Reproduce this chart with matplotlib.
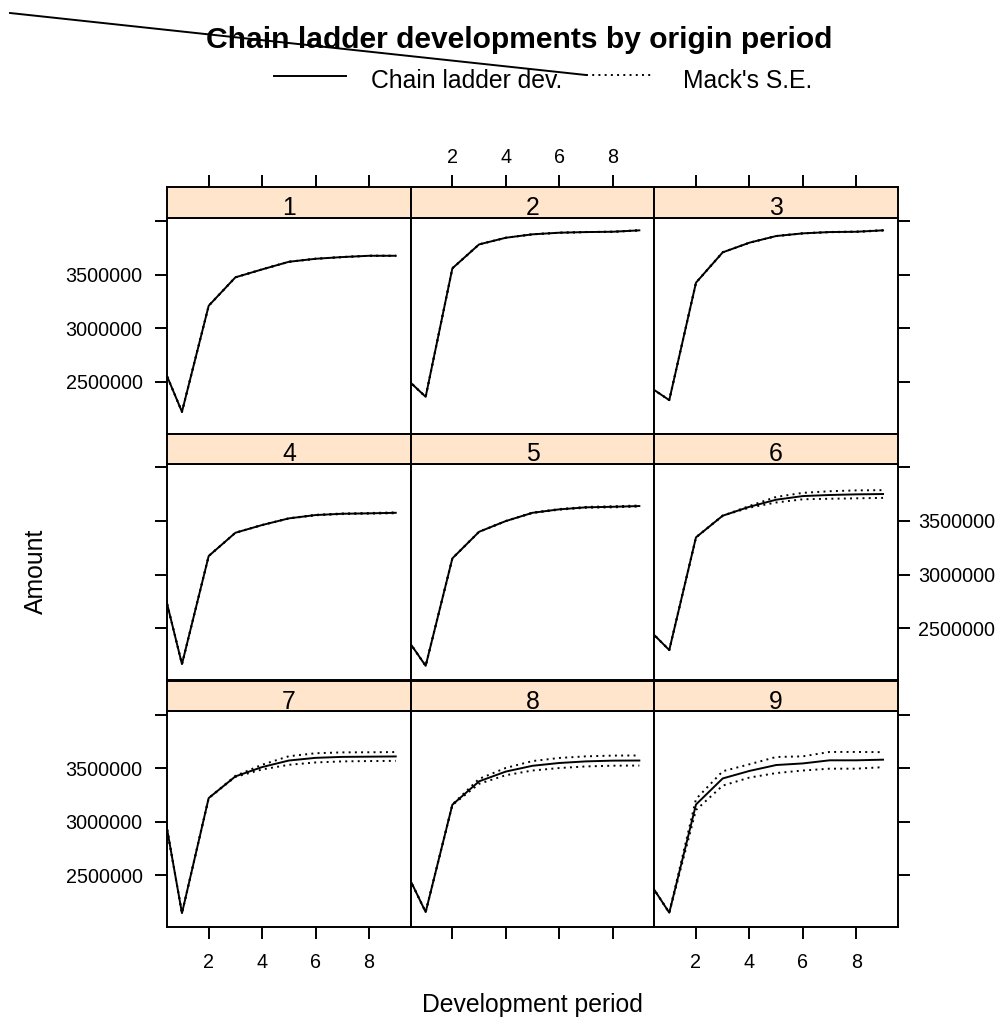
import matplotlib
matplotlib.use("Agg")
import matplotlib.pyplot as plt
from matplotlib.lines import Line2D
from matplotlib.ticker import FixedLocator, FixedFormatter
from matplotlib.transforms import ScaledTranslation

plt.rcParams["font.family"] = ["Liberation Sans", "DejaVu Sans"]

# development periods (period 0 lies left of the plotted range)
dev = [0, 1, 2, 3, 4, 5, 6, 7, 8, 9]
origins = ["1", "2", "3", "4", "5", "6", "7", "8", "9"]

# chain ladder developments per origin period
cl_1 = [2816000, 2221000, 3210000, 3475000, 3549000, 3620000, 3648000, 3664000, 3676000, 3676000]
cl_2 = [2595000, 2361000, 3559000, 3782000, 3844000, 3876000, 3891000, 3897000, 3900000, 3913000]
cl_3 = [2498000, 2330000, 3425000, 3708000, 3798000, 3860000, 3885000, 3897000, 3900000, 3913000]
cl_4 = [3176000, 2165000, 3173000, 3390000, 3462000, 3524000, 3555000, 3567000, 3571000, 3576000]
cl_5 = [2511000, 2149000, 3151000, 3399000, 3499000, 3576000, 3608000, 3627000, 3632000, 3639000]
cl_6 = [2546000, 2296000, 3347000, 3549000, 3632000, 3698000, 3732000, 3742000, 3748000, 3751000]
cl_7 = [3556000, 2149000, 3222000, 3424000, 3511000, 3572000, 3597000, 3606000, 3608000, 3610000]
cl_8 = [2675000, 2159000, 3160000, 3378000, 3469000, 3523000, 3549000, 3564000, 3571000, 3572000]
cl_9 = [2535000, 2153000, 3162000, 3405000, 3475000, 3530000, 3545000, 3574000, 3574000, 3580000]

# Mack's standard errors per origin period
se_1 = [0, 0, 0, 0, 0, 0, 0, 0, 0, 0]
se_2 = [0, 0, 0, 0, 0, 0, 0, 0, 1000, 2000]
se_3 = [0, 0, 0, 0, 0, 0, 0, 1000, 2000, 2000]
se_4 = [0, 0, 0, 0, 0, 1000, 2000, 3000, 3000, 4000]
se_5 = [0, 0, 0, 0, 0, 2000, 3000, 4000, 5000, 5000]
se_6 = [0, 0, 0, 0, 8000, 26000, 30000, 35000, 37000, 36000]
se_7 = [0, 0, 0, 5000, 22000, 40000, 43000, 42000, 41000, 41000]
se_8 = [0, 0, 3000, 23000, 34000, 44000, 47000, 47000, 47000, 47000]
se_9 = [0, 3000, 51000, 67000, 62000, 75000, 66000, 78000, 78000, 70000]

cl_all = [cl_1, cl_2, cl_3, cl_4, cl_5, cl_6, cl_7, cl_8, cl_9]
se_all = [se_1, se_2, se_3, se_4, se_5, se_6, se_7, se_8, se_9]

x_ticks = [2, 4, 6, 8]
y_ticks = [2500000, 3000000, 3500000, 4000000]
y_tick_labels = ["2500000", "3000000", "3500000", ""]

W, H = 1001, 1019
fig = plt.figure(figsize=(W / 100, H / 100), dpi=100)


def box(x0, y0, x1, y1):
    # pixel box (top-left origin) -> figure fraction rect
    return [x0 / W, 1 - y1 / H, (x1 - x0) / W, (y1 - y0) / H]


def px(x, y):
    return x / W, 1 - y / H


col_x = [167, 410.7, 654.3, 898]
row_top = [217.7, 464.0, 711.3]
panel_h = 216
strip_h = 30.3

lw = 1.4
tick_len = 8.6
axis_fs = 14.2
base_fs = 17.8
strip_col = "#ffe5cc"
xlim = (0.44, 9.56)
ylim = (2017000, 4031000)
label_drop = ScaledTranslation(0, -3.5 / 100, fig.dpi_scale_trans)

for i, name in enumerate(origins):
    r, c = divmod(i, 3)
    top = row_top[r]
    ax = fig.add_axes(box(col_x[c], top, col_x[c + 1], top + panel_h))
    ax.set_xlim(*xlim)
    ax.set_ylim(*ylim)
    cl = cl_all[i]
    se = se_all[i]
    upper = [v + s for v, s in zip(cl, se)]
    lower = [v - s for v, s in zip(cl, se)]
    ax.plot(dev, cl, color="black", lw=lw)
    ax.plot(dev, upper, color="black", lw=lw, ls=(0, (1, 2.2)))
    ax.plot(dev, lower, color="black", lw=lw, ls=(0, (1, 2.2)))
    for sp in ax.spines.values():
        sp.set_linewidth(lw)
        sp.set_color("black")

    ax.xaxis.set_major_locator(FixedLocator(x_ticks))
    ax.yaxis.set_major_locator(FixedLocator(y_ticks))
    ax.yaxis.set_major_formatter(FixedFormatter(y_tick_labels))
    ax.tick_params(axis="both", direction="out", length=tick_len, width=lw,
                   labelsize=axis_fs, colors="black")
    ax.tick_params(axis="x", bottom=(r == 2), top=False,
                   labelbottom=(r == 2 and c != 1), labeltop=False, pad=10)
    ax.tick_params(axis="y", left=(c == 0), right=(c == 2),
                   labelleft=(c == 0 and r != 1),
                   labelright=(c == 2 and r == 1), pad=9)
    ax.tick_params(axis="y", which="both", labelright=(c == 2 and r == 1))
    for t in ax.yaxis.get_major_ticks():
        t.label1.set_transform(t.label1.get_transform() + label_drop)
        t.label2.set_transform(t.label2.get_transform() + label_drop)
        t.set_pad(9 if c == 0 else 6)

    # strip with the origin period
    sax = fig.add_axes(box(col_x[c], top - strip_h, col_x[c + 1], top))
    sax.set_facecolor(strip_col)
    sax.set_xlim(*xlim)
    sax.set_ylim(0, 1)
    sax.set_yticks([])
    for sp in sax.spines.values():
        sp.set_linewidth(lw)
        sp.set_color("black")
    sax.xaxis.set_major_locator(FixedLocator(x_ticks))
    sax.tick_params(axis="x", direction="out", length=tick_len, width=lw,
                    labelsize=axis_fs, bottom=False, labelbottom=False,
                    top=(r == 0), labeltop=(r == 0 and c == 1), pad=6)
    sax.text(0.5, 0.09, name, transform=sax.transAxes, ha="center",
             va="baseline", fontsize=base_fs)

# title and key
fig.text(*px(519, 48.5), "Chain ladder developments by origin period",
         ha="center", va="baseline", fontsize=21.6, fontweight="bold")
fig.add_artist(Line2D([274 / W, 346 / W], [1 - 76 / H, 1 - 76 / H],
                      color="black", lw=lw))
fig.text(*px(371, 88.3), "Chain ladder dev.", ha="left", va="baseline",
         fontsize=base_fs)
fig.add_artist(Line2D([586 / W, 652 / W], [1 - 75 / H, 1 - 75 / H],
                      color="black", lw=lw, ls=(0, (1, 2.2))))
fig.text(*px(683, 88.3), "Mack's S.E.", ha="left", va="baseline",
         fontsize=base_fs)
fig.add_artist(Line2D([10 / W, 586 / W], [1 - 13 / H, 1 - 75 / H],
                      color="black", lw=lw))

# axis titles
fig.text(*px(532.5, 1012), "Development period", ha="center",
         va="baseline", fontsize=base_fs)
fig.text(*px(42.5, 571.7), "Amount", ha="center", va="baseline",
         rotation=90, rotation_mode="anchor", fontsize=base_fs)

fig.savefig("out.png", dpi=100)
